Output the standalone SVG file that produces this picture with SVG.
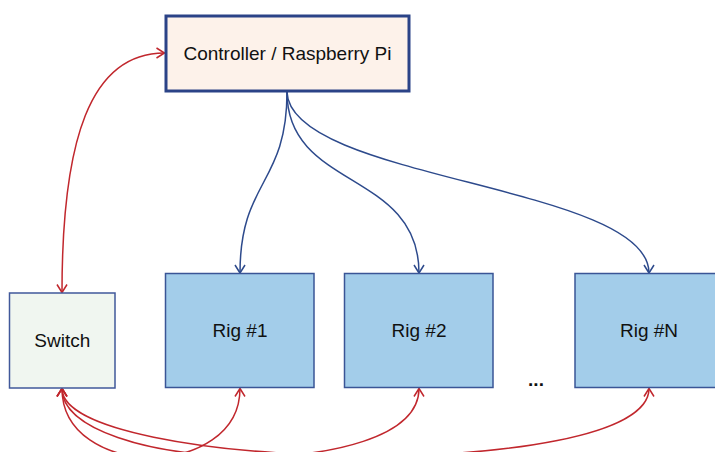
<svg xmlns="http://www.w3.org/2000/svg" width="715" height="452" viewBox="0 0 715 452">
<style>
  .lbl{font-family:"Liberation Sans",Arial,sans-serif;font-size:19px;fill:#111;text-anchor:middle}
  .rig{fill:#a3cdea;stroke:#3a5596;stroke-width:1.5}
  .blue{fill:none;stroke:#2d4a8c;stroke-width:1.5}
  .red{fill:none;stroke:#c1272d;stroke-width:1.5}
</style>
<defs>
  <marker id="ab" markerUnits="userSpaceOnUse" markerWidth="20" markerHeight="20" viewBox="-10 -10 20 20" refX="0" refY="0" orient="auto-start-reverse" overflow="visible">
    <path d="M-8,-5 L0,0 L-8,5" fill="none" stroke="#2d4a8c" stroke-width="1.5"/>
  </marker>
  <marker id="ar" markerUnits="userSpaceOnUse" markerWidth="20" markerHeight="20" viewBox="-10 -10 20 20" refX="0" refY="0" orient="auto-start-reverse" overflow="visible">
    <path d="M-8,-5 L0,0 L-8,5" fill="none" stroke="#c1272d" stroke-width="1.5"/>
  </marker>
</defs>
<rect width="715" height="452" fill="#ffffff"/>
<g id="connectors">
  <path class="blue" d="M287,92 C287,185 240,180 240,273" marker-end="url(#ab)"/>
  <path class="blue" d="M287,92 C287,190 419,170 419,273" marker-end="url(#ab)"/>
  <path class="blue" d="M287,92 C290,180 649,185 649,273" marker-end="url(#ab)"/>
  <path class="red" d="M62,292.5 C62,140 90,53 164.5,53" marker-start="url(#ar)" marker-end="url(#ar)"/>
  <path class="red" d="M62,388.5 C62,480 240,480 240,388.5" marker-start="url(#ar)" marker-end="url(#ar)"/>
  <path class="red" d="M62,388.5 C62,472 419,486 419,388.5" marker-start="url(#ar)" marker-end="url(#ar)"/>
  <path class="red" d="M62,388.5 C62,472 649,484 649,388.5" marker-start="url(#ar)" marker-end="url(#ar)"/>
</g>
<g id="controller">
  <rect x="166" y="16" width="243" height="75" fill="#fdf2ea" stroke="#2b4387" stroke-width="3"/>
  <text class="lbl" x="287.5" y="60">Controller / Raspberry Pi</text>
</g>
<g id="switch">
  <rect x="9.5" y="293" width="105.5" height="95" fill="#f0f6f0" stroke="#40589a" stroke-width="1.5"/>
  <text class="lbl" x="62.25" y="347">Switch</text>
</g>
<g id="rig1">
  <rect class="rig" x="165.5" y="273.5" width="148.5" height="114"/>
  <text class="lbl" x="240" y="337">Rig #1</text>
</g>
<g id="rig2">
  <rect class="rig" x="344.5" y="273.5" width="148.5" height="114"/>
  <text class="lbl" x="419" y="337">Rig #2</text>
</g>
<g id="rigN">
  <rect class="rig" x="575" y="273.5" width="148.5" height="114"/>
  <text class="lbl" x="649" y="337">Rig #N</text>
</g>
<g id="ellipsis">
  <text class="lbl" x="536" y="386" font-weight="bold">...</text>
</g>
</svg>
